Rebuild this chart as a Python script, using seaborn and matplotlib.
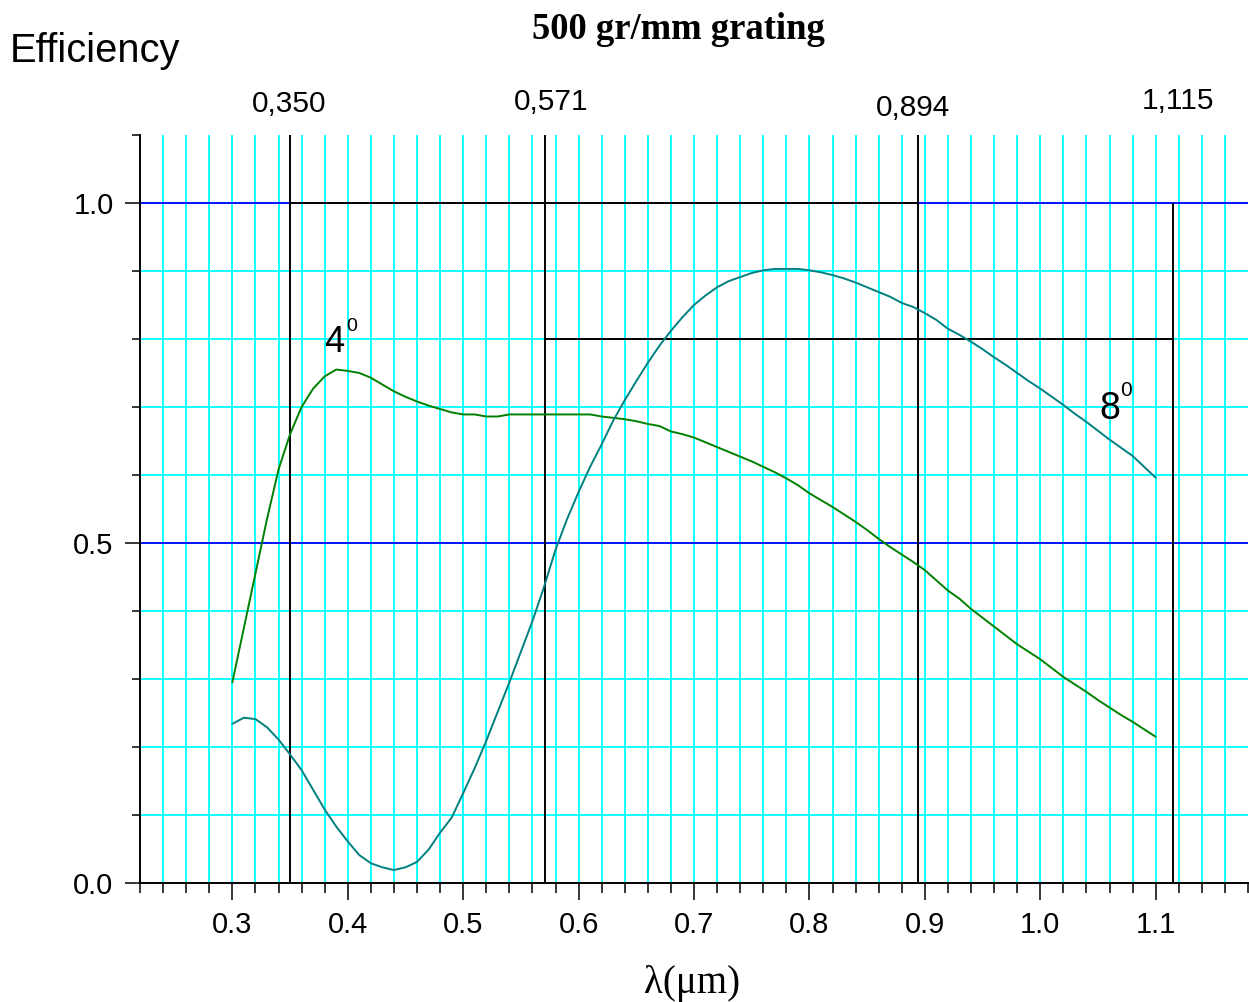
import matplotlib
matplotlib.use('Agg')
import numpy as np
import pandas as pd
import matplotlib.pyplot as plt
import seaborn as sns
from matplotlib.ticker import MultipleLocator, FormatStrFormatter

# wavelength grid (um) and efficiency curves
wavelength = [0.30, 0.31, 0.32, 0.33, 0.34, 0.35, 0.36, 0.37, 0.38, 0.39,
              0.40, 0.41, 0.42, 0.43, 0.44, 0.45, 0.46, 0.47, 0.48, 0.49,
              0.50, 0.51, 0.52, 0.53, 0.54, 0.55, 0.56, 0.57, 0.58, 0.59,
              0.60, 0.61, 0.62, 0.63, 0.64, 0.65, 0.66, 0.67, 0.68, 0.69,
              0.70, 0.71, 0.72, 0.73, 0.74, 0.75, 0.76, 0.77, 0.78, 0.79,
              0.80, 0.81, 0.82, 0.83, 0.84, 0.85, 0.86, 0.87, 0.88, 0.89,
              0.90, 0.91, 0.92, 0.93, 0.94, 0.95, 0.96, 0.97, 0.98, 0.99,
              1.00, 1.01, 1.02, 1.03, 1.04, 1.05, 1.06, 1.07, 1.08, 1.09,
              1.10]

eff_4deg = [0.295, 0.375, 0.455, 0.535, 0.608, 0.660, 0.700, 0.727, 0.745, 0.755,
            0.753, 0.750, 0.743, 0.733, 0.723, 0.715, 0.708, 0.702, 0.697, 0.692,
            0.689, 0.689, 0.686, 0.686, 0.689, 0.689, 0.689, 0.689, 0.689, 0.689,
            0.689, 0.689, 0.686, 0.684, 0.682, 0.679, 0.675, 0.672, 0.664, 0.660,
            0.655, 0.648, 0.641, 0.634, 0.627, 0.620, 0.612, 0.604, 0.595, 0.585,
            0.573, 0.563, 0.553, 0.542, 0.531, 0.519, 0.506, 0.494, 0.483, 0.472,
            0.460, 0.445, 0.430, 0.418, 0.403, 0.390, 0.377, 0.364, 0.351, 0.340,
            0.329, 0.316, 0.303, 0.292, 0.281, 0.269, 0.258, 0.247, 0.237, 0.226,
            0.215]

eff_8deg = [0.234, 0.243, 0.241, 0.229, 0.211, 0.189, 0.166, 0.137, 0.108, 0.083,
            0.061, 0.041, 0.029, 0.023, 0.019, 0.023, 0.031, 0.049, 0.074, 0.096,
            0.132, 0.169, 0.209, 0.252, 0.295, 0.340, 0.385, 0.435, 0.490, 0.535,
            0.575, 0.612, 0.645, 0.680, 0.710, 0.738, 0.765, 0.790, 0.812, 0.832,
            0.850, 0.864, 0.876, 0.885, 0.891, 0.897, 0.901, 0.903, 0.903, 0.903,
            0.901, 0.898, 0.894, 0.889, 0.883, 0.876, 0.869, 0.862, 0.853, 0.847,
            0.838, 0.828, 0.815, 0.806, 0.796, 0.785, 0.773, 0.762, 0.750, 0.738,
            0.727, 0.715, 0.703, 0.690, 0.678, 0.665, 0.652, 0.640, 0.628, 0.612,
            0.596]

# marker wavelengths with their top labels
marker_waves = [0.350, 0.571, 0.894, 1.115]
marker_labels = ['0,350', '0,571', '0,894', '1,115']
label_x = [0.349, 0.576, 0.890, 1.119]
label_y = [1.134, 1.137, 1.128, 1.138]

df = pd.DataFrame({'wavelength': wavelength, '4deg': eff_4deg, '8deg': eff_8deg})

sns.set_style('ticks')
plt.rcParams['font.family'] = ['Liberation Sans', 'DejaVu Sans']
plt.rcParams['text.color'] = 'black'
plt.rcParams['xtick.color'] = 'black'
plt.rcParams['ytick.color'] = 'black'

fig = plt.figure(figsize=(12.49, 10.02), dpi=100)
ax = fig.add_axes([0.1121, 0.1188, 0.8871, 0.7465])

ax.set_xlim(0.22, 1.18)
ax.set_ylim(0.0, 1.1)

ax.xaxis.set_major_locator(MultipleLocator(0.1))
ax.xaxis.set_minor_locator(MultipleLocator(0.02))
ax.yaxis.set_major_locator(MultipleLocator(0.5))
ax.yaxis.set_minor_locator(MultipleLocator(0.1))
ax.xaxis.set_major_formatter(FormatStrFormatter('%.1f'))
ax.yaxis.set_major_formatter(FormatStrFormatter('%.1f'))

ax.grid(which='both', color='#00ffff', lw=1.3, zorder=0)
ax.set_axisbelow(True)

# blue lines at 0.5 and 1.0
for yv in [0.5, 1.0]:
    ax.axhline(yv, color='#0000ff', lw=1.3, zorder=1)

# black reference lines
ax.vlines(marker_waves[:3], 0, 1.1, color='black', lw=1.4, zorder=2)
ax.vlines(marker_waves[3], 0, 1.0, color='black', lw=1.4, zorder=2)
ax.hlines(1.0, marker_waves[0], marker_waves[2], color='black', lw=1.4, zorder=2)
ax.hlines(0.8, marker_waves[1], marker_waves[3], color='black', lw=1.4, zorder=2)

sns.lineplot(data=df, x='wavelength', y='4deg', ax=ax, color='#008000', lw=1.4, zorder=3)
sns.lineplot(data=df, x='wavelength', y='8deg', ax=ax, color='#008080', lw=1.4, zorder=3)

for xv, yv, txt in zip(label_x, label_y, marker_labels):
    ax.text(xv, yv, txt, ha='center', va='baseline', fontsize=21.5, clip_on=False)

# curve annotations
ax.text(0.3798, 0.7806, '4', fontsize=26, va='baseline', ha='left')
ax.text(0.3990, 0.8115, '0', fontsize=14, va='baseline', ha='left')
ax.text(1.0514, 0.682, '8', fontsize=27, va='baseline', ha='left')
ax.text(1.0696, 0.716, '0', fontsize=15, va='baseline', ha='left')

ax.set_xlabel('')
ax.set_ylabel('')
sns.despine(ax=ax, top=True, right=True)
for sp in ['left', 'bottom']:
    ax.spines[sp].set_linewidth(1.4)
    ax.spines[sp].set_color('black')

ax.tick_params(axis='x', which='major', direction='out', length=12, width=1.1,
               pad=8, labelsize=21, colors='black')
ax.tick_params(axis='x', which='minor', direction='out', length=7, width=1.1)
ax.tick_params(axis='y', which='major', direction='out', length=11, width=1.1,
               pad=8, labelsize=21, colors='black')
ax.tick_params(axis='y', which='minor', direction='out', length=6, width=1.1)

fig.text(10 / 1249, 0.938, 'Efficiency', fontsize=28.7, ha='left', va='baseline')
fig.text(0.5428, 0.961, '500 gr/mm grating', fontsize=26.4, fontweight='bold',
         family=['Liberation Serif', 'DejaVu Serif'], ha='center', va='baseline')
fig.text(0.554, 0.009, 'λ(μm)', fontsize=28,
         family=['Liberation Serif', 'DejaVu Serif'], ha='center', va='baseline')

# hide gridlines lying on the axes limits
fig.canvas.draw()
for axis, lims in [(ax.xaxis, ax.get_xlim()), (ax.yaxis, ax.get_ylim())]:
    for tick in axis.get_major_ticks() + axis.get_minor_ticks():
        if any(abs(tick.get_loc() - v) < 1e-6 for v in lims):
            tick.gridline.set_visible(False)

fig.savefig('out.png', dpi=100)
